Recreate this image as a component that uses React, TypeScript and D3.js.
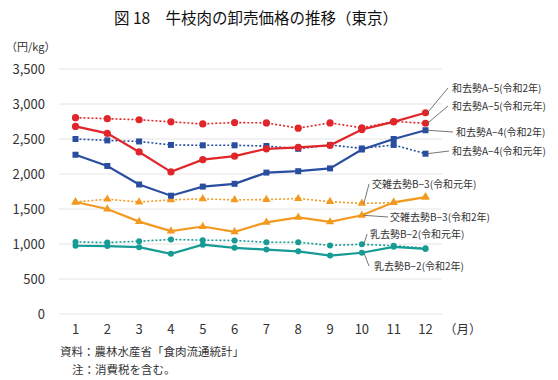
import React from "react";
import * as d3 from "d3";

const months = [1, 2, 3, 4, 5, 6, 7, 8, 9, 10, 11, 12];
const yTicks = [0, 500, 1000, 1500, 2000, 2500, 3000, 3500];

const a5R2 = [2680, 2580, 2315, 2030, 2205, 2255, 2360, 2380, 2410, 2635, 2745, 2875];
const a5R1 = [2805, 2790, 2775, 2745, 2715, 2735, 2730, 2655, 2730, 2660, 2750, 2725];
const a4R2 = [2275, 2115, 1850, 1690, 1820, 1860, 2020, 2040, 2080, 2350, 2500, 2625];
const a4R1 = [2500, 2480, 2465, 2415, 2410, 2410, 2400, 2360, 2415, 2365, 2415, 2290];
const b3R1 = [1600, 1640, 1600, 1630, 1645, 1630, 1635, 1650, 1605, 1580, 1590, 1670];
const b3R2 = [1600, 1500, 1320, 1185, 1250, 1175, 1310, 1380, 1315, 1410, 1595, 1670];
const b2R1 = [1030, 1020, 1040, 1065, 1055, 1050, 1025, 1025, 980, 995, 975, 940];
const b2R2 = [975, 970, 955, 860, 990, 945, 920, 895, 835, 875, 960, 930];

const series = [
  { name: "和去勢A−5(令和元年)", values: a5R1, color: "#e0262a", dashed: true, marker: "circle" },
  { name: "和去勢A−4(令和元年)", values: a4R1, color: "#2a4e9f", dashed: true, marker: "square" },
  { name: "交雑去勢B−3(令和元年)", values: b3R1, color: "#f29a20", dashed: true, marker: "triangle" },
  { name: "乳去勢B−2(令和元年)", values: b2R1, color: "#169b95", dashed: true, marker: "small" },
  { name: "和去勢A−5(令和2年)", values: a5R2, color: "#e0262a", dashed: false, marker: "circle" },
  { name: "和去勢A−4(令和2年)", values: a4R2, color: "#2a4e9f", dashed: false, marker: "square" },
  { name: "交雑去勢B−3(令和2年)", values: b3R2, color: "#f29a20", dashed: false, marker: "triangle" },
  { name: "乳去勢B−2(令和2年)", values: b2R2, color: "#169b95", dashed: false, marker: "small" },
];

// label anchors: [series name, month index of anchor point, label x, label y, elbow x, elbow y]
const labels: [string, number, number, number, number, number][] = [
  ["和去勢A−5(令和2年)", 11, 452, 88, 448, 88],
  ["和去勢A−5(令和元年)", 11, 452, 106, 448, 106],
  ["和去勢A−4(令和2年)", 11, 456, 132, 453, 132],
  ["和去勢A−4(令和元年)", 11, 452, 151, 449, 151],
  ["交雑去勢B−3(令和元年)", 9, 372, 184, 369, 184],
  ["交雑去勢B−3(令和2年)", 9, 390, 217, 388, 217],
  ["乳去勢B−2(令和元年)", 9, 370, 234, 367, 234],
  ["乳去勢B−2(令和2年)", 9, 374, 266, 369, 266],
];

const FONT = "'Noto Sans CJK JP', 'Noto Sans', sans-serif";

export default function App() {
  const W = 558;
  const H = 380;
  const left = 59;
  const right = 442;
  const x = d3.scaleLinear().domain([1, 12]).range([75.5, 425.5]);
  const y = d3.scaleLinear().domain([0, 3500]).range([314, 69]);
  const line = d3
    .line<number>()
    .x((_, i) => x(months[i]))
    .y((d) => y(d));

  const marker = (type: string, cx: number, cy: number, color: string, key: string) => {
    if (type === "circle") return <circle key={key} cx={cx} cy={cy} r={3.6} fill={color} />;
    if (type === "square")
      return <rect key={key} x={cx - 3} y={cy - 3} width={6} height={6} fill={color} />;
    if (type === "triangle") {
      const p = d3.symbol().type(d3.symbolTriangle).size(30)();
      return <path key={key} d={p || ""} transform={`translate(${cx},${cy})`} fill={color} />;
    }
    return <circle key={key} cx={cx} cy={cy} r={3} fill={color} />;
  };

  return (
    <svg
      width={W}
      height={H}
      style={{ position: "absolute", left: 0, top: 0, background: "#fff" }}
      fontFamily={FONT}
    >
      <text x={256} y={24} textAnchor="middle" fontSize={15.5} fill="#111" fontWeight={400}>
        図 18　牛枝肉の卸売価格の推移（東京）
      </text>
      <text x={6} y={51} fontSize={11} fill="#333">
        （円/kg）
      </text>
      {yTicks.map((t) => (
        <g key={t}>
          <line x1={left} x2={right} y1={y(t)} y2={y(t)} stroke="#e4e4e4" strokeWidth={1} />
          <text x={45} y={y(t) + 4.5} textAnchor="end" fontSize={13} fill="#333">
            {d3.format(",")(t)}
          </text>
        </g>
      ))}
      {months.map((m) => (
        <text key={m} x={x(m)} y={334} textAnchor="middle" fontSize={13} fill="#333">
          {m}
        </text>
      ))}
      <text x={444} y={334} fontSize={12.5} fill="#333">
        （月）
      </text>
      {series.map((s) => (
        <g key={s.name}>
          <path
            d={line(s.values) || ""}
            fill="none"
            stroke={s.color}
            strokeWidth={s.dashed ? 1.6 : 2.2}
            strokeDasharray={s.dashed ? "2,2" : undefined}
          />
          {s.values.map((v, i) => marker(s.marker, x(months[i]), y(v), s.color, `${s.name}-${i}`))}
        </g>
      ))}
      {labels.map(([name, idx, lx, ly, ex, ey]) => {
        const s = series.find((d) => d.name === name)!;
        const px = x(months[idx]);
        const py = y(s.values[idx]);
        return (
          <g key={name}>
            <polyline
              points={`${px + 2},${py} ${ex},${ey}`}
              fill="none"
              stroke="#666"
              strokeWidth={0.9}
            />
            <text x={lx} y={ly + 4} fontSize={10} fill="#333">
              {name}
            </text>
          </g>
        );
      })}
      <text x={60} y={356} fontSize={11.5} fill="#333">
        資料：農林水産省「食肉流通統計」
      </text>
      <text x={72} y={374} fontSize={11.5} fill="#333">
        注：消費税を含む。
      </text>
    </svg>
  );
}
